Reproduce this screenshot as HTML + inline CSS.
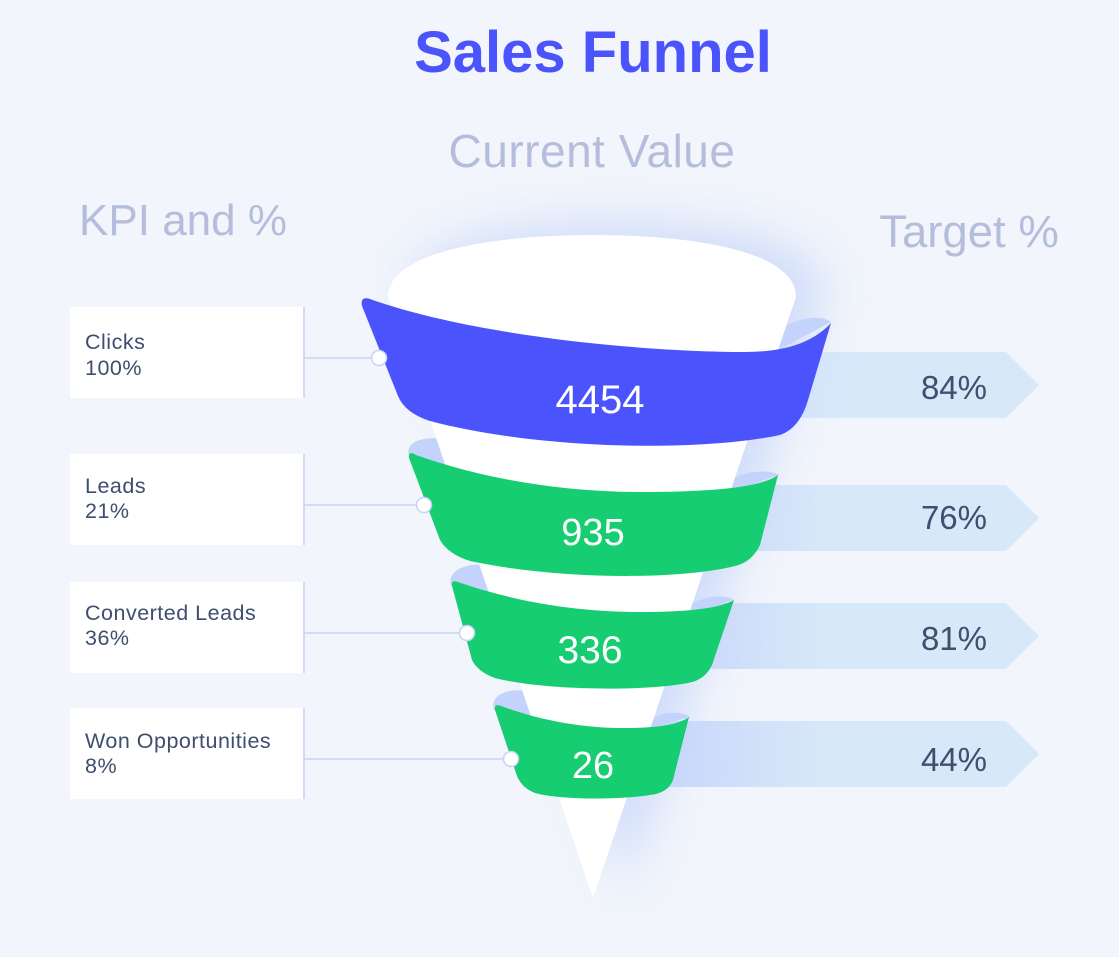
<!DOCTYPE html>
<html><head><meta charset="utf-8"><style>
html,body{margin:0;padding:0;background:#f2f5fb;}
svg{display:block;font-family:"Liberation Sans",sans-serif;}
</style></head><body>
<svg width="1119" height="957" viewBox="0 0 1119 957" xmlns="http://www.w3.org/2000/svg">
<defs>
<filter id="blur" x="-50%" y="-50%" width="200%" height="200%"><feGaussianBlur stdDeviation="24"/></filter>
<linearGradient id="arr" x1="0" x2="1" y1="0" y2="0">
<stop offset="0" stop-color="#c7d6fa"/><stop offset="0.45" stop-color="#d7e8f9"/><stop offset="1" stop-color="#d7e9f9"/>
</linearGradient>
</defs>
<rect width="1119" height="957" fill="#f2f5fb"/>

<!-- headers -->
<text x="593" y="72" text-anchor="middle" font-size="58" font-weight="bold" fill="#4b53fb">Sales Funnel</text>
<text x="592" y="167" text-anchor="middle" font-size="46" fill="#b4bedc" letter-spacing="0.5">Current Value</text>
<text x="183" y="235" text-anchor="middle" font-size="44" fill="#b4bedc">KPI and %</text>
<text x="969" y="247" text-anchor="middle" font-size="45.5" fill="#b4bedc">Target %</text>

<!-- target arrows -->
<g fill="url(#arr)">
<polygon points="650,352 1006,352 1039,385 1006,418 650,418"/>
<polygon points="650,485 1006,485 1039,518 1006,551 650,551"/>
<polygon points="650,603 1006,603 1039,636 1006,669 650,669"/>
<polygon points="650,721 1006,721 1039,754 1006,787 650,787"/>
</g>
<g font-size="33" fill="#414e6e" text-anchor="end">
<text x="987" y="399">84%</text>
<text x="987" y="529">76%</text>
<text x="987" y="650">81%</text>
<text x="987" y="771">44%</text>
</g>

<!-- glow -->
<path d="M398,292 C398,245 505,228 602,228 C700,228 810,245 810,292 L612,895 Z" fill="#c6d5fa" opacity="0.8" filter="url(#blur)" transform="translate(14,-4)"/>

<!-- left boxes -->
<g fill="#ffffff">
<rect x="70" y="307" width="234" height="91"/>
<rect x="70" y="454" width="234" height="91"/>
<rect x="70" y="582" width="234" height="91"/>
<rect x="70" y="708" width="234" height="91"/>
</g>
<g stroke="#c8d3f5" stroke-width="1.6" fill="none">
<line x1="304" y1="307" x2="304" y2="398"/>
<line x1="304" y1="454" x2="304" y2="545"/>
<line x1="304" y1="582" x2="304" y2="673"/>
<line x1="304" y1="708" x2="304" y2="799"/>
<line x1="304" y1="358" x2="379" y2="358"/>
<line x1="304" y1="505" x2="424" y2="505"/>
<line x1="304" y1="633" x2="467" y2="633"/>
<line x1="304" y1="759" x2="511" y2="759"/>
</g>
<g font-size="21.5" fill="#3f4d6e" letter-spacing="0.5">
<text x="85" y="349">Clicks</text><text x="85" y="375">100%</text>
<text x="85" y="493">Leads</text><text x="85" y="518">21%</text>
<text x="85" y="620">Converted Leads</text><text x="85" y="645">36%</text>
<text x="85" y="748">Won Opportunities</text><text x="85" y="773">8%</text>
</g>

<!-- lips (inner ribbon) -->
<g fill="#c4d3fb">
<path d="M768,345 C780,320 818,312 831,322 L760,360 Z"/>
<path d="M409,456 C404,440 428,435 450,440 L450,475 Z"/>
<path d="M715,492 C732,472 766,467 779,475 L715,498 Z"/>
<path d="M451,586 C446,568 472,561 495,566 L495,600 Z"/>
<path d="M680,612 C694,598 722,592 734,600 L680,616 Z"/>
<path d="M494,710 C489,693 512,687 532,692 L532,720 Z"/>
<path d="M645,725 C655,712 679,709 690,717 L645,729 Z"/>
</g>

<!-- cone -->
<path d="M388,297 C388,250 500,235 592,235 C690,235 796,250 796,297 L593,898 Z" fill="#ffffff"/>

<!-- bands -->
<path d="M362,306 Q360,296 370,299 C470,335 640,352 745,352 C790,352 815,340 831,323 L808,400 Q800,428 780,435 C700,452 540,450 430,421 Q405,413 398,396 Z" fill="#4b53fd"/>
<path d="M409,458 Q408,450 416,455 C480,478 560,492 640,492 C710,492 760,488 778,475 L760,545 Q752,562 735,566 C680,580 560,580 470,561 Q448,554 440,540 Z" fill="#16cd72"/>
<path d="M452,586 Q451,579 458,582 C510,600 570,612 640,612 C690,612 720,608 734,600 L712,665 Q705,680 688,683 C640,692 540,690 495,678 Q478,672 472,660 Z" fill="#16cd72"/>
<path d="M495,710 Q494,703 501,706 C540,720 580,728 625,728 C660,728 680,724 689,717 L673,780 Q668,793 650,795 C620,800 560,800 535,793 Q522,788 517,776 Z" fill="#16cd72"/>

<g fill="#ffffff" text-anchor="middle">
<text x="600" y="413" font-size="40">4454</text>
<text x="593" y="545" font-size="38">935</text>
<text x="590" y="663" font-size="39">336</text>
<text x="593" y="778" font-size="38">26</text>
</g>

<!-- connector dots -->
<g fill="#ffffff" stroke="#c8d3f5" stroke-width="1.5">
<circle cx="379" cy="358" r="7.5"/>
<circle cx="424" cy="505" r="7.5"/>
<circle cx="467" cy="633" r="7.5"/>
<circle cx="511" cy="759" r="7.5"/>
</g>
</svg>
</body></html>
